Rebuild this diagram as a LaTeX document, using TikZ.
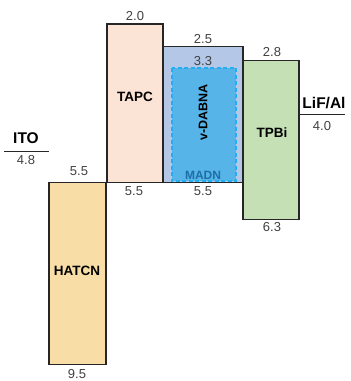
\documentclass[tikz,border=0pt]{standalone}
\usepackage{fontspec}
\setmainfont{Liberation Sans}
\usepackage{xcolor}
\usepackage{tikz}

\definecolor{hatcnfill}{HTML}{F9DDA6}
\definecolor{tapcfill}{HTML}{FBE3D6}
\definecolor{hostfill}{HTML}{B4C7E7}
\definecolor{dopfill}{HTML}{56B4E9}
\definecolor{dopline}{HTML}{22AEF0}
\definecolor{madntext}{HTML}{1E6FA5}
\definecolor{tpbifill}{HTML}{C5E0B4}
\definecolor{numgray}{HTML}{404040}
\definecolor{edgegray}{HTML}{262626}

\begin{document}
\begin{tikzpicture}[x=1pt, y=-45.4pt,
    lvlbox/.style={draw=edgegray, line width=1.1pt},
    val/.style={text=numgray, font=\fontsize{13}{15}\selectfont},
    mat/.style={font=\bfseries\fontsize{13.5}{16}\selectfont},
    elec/.style={font=\bfseries\fontsize{15.5}{18}\selectfont}]
    % Frame (x in px, y in eV)
    \useasboundingbox (0,1.471) rectangle (350,9.863);

    % Electrodes
    \draw[edgegray, line width=1.1pt] (4,4.8) -- (49,4.8);
    \node[elec] (ito) at (26,4.52) {ITO};
    \node[val] (itoval) at (26,5.0) {4.8};
    \draw[edgegray, line width=1.1pt] (300,4.0) -- (345,4.0);
    \node[elec] (lifal) at (324,3.75) {LiF/Al};
    \node[val] (lifalval) at (322,4.25) {4.0};

    % HATCN
    \draw[lvlbox, fill=hatcnfill] (49,5.5) rectangle (106,9.5);
    \node[mat] (hatcn) at (77,7.44) {HATCN};
    \node[val] (hatcnup) at (79,5.24) {5.5};
    \node[val] (hatcndn) at (77,9.71) {9.5};

    % TAPC
    \draw[lvlbox, fill=tapcfill] (107,2.0) rectangle (163,5.5);
    \node[mat] (tapc) at (135,3.61) {TAPC};
    \node[val, above] (tapcup) at (135,2.0) {2.0};
    \node[val, below] (tapcdn) at (134,5.5) {5.5};

    % Host MADN with dopant v-DABNA
    \draw[lvlbox, fill=hostfill] (163,2.5) rectangle (243,5.5);
    \draw[dopline, fill=dopfill, dash pattern=on 4pt off 2.5pt, line width=1.3pt] (172,2.97) rectangle (236,5.46);
    \node[mat, font=\bfseries\fontsize{12.5}{15}\selectfont, rotate=90] (vdabna) at (203,3.94) {v-DABNA};
    \node[text=madntext, font=\bfseries\fontsize{12}{14}\selectfont] (madn) at (203,5.33) {MADN};
    \node[val, above] (hostup) at (203,2.5) {2.5};
    \node[val] (dopup) at (203,2.81) {3.3};
    \node[val, below] (hostdn) at (203,5.5) {5.5};

    % TPBi
    \draw[lvlbox, fill=tpbifill] (243,2.8) rectangle (299,6.3);
    \node[mat] (tpbi) at (272,4.4) {TPBi};
    \node[val, above] (tpbiup) at (272,2.8) {2.8};
    \node[val, below] (tpbidn) at (272,6.3) {6.3};
\end{tikzpicture}
\end{document}
